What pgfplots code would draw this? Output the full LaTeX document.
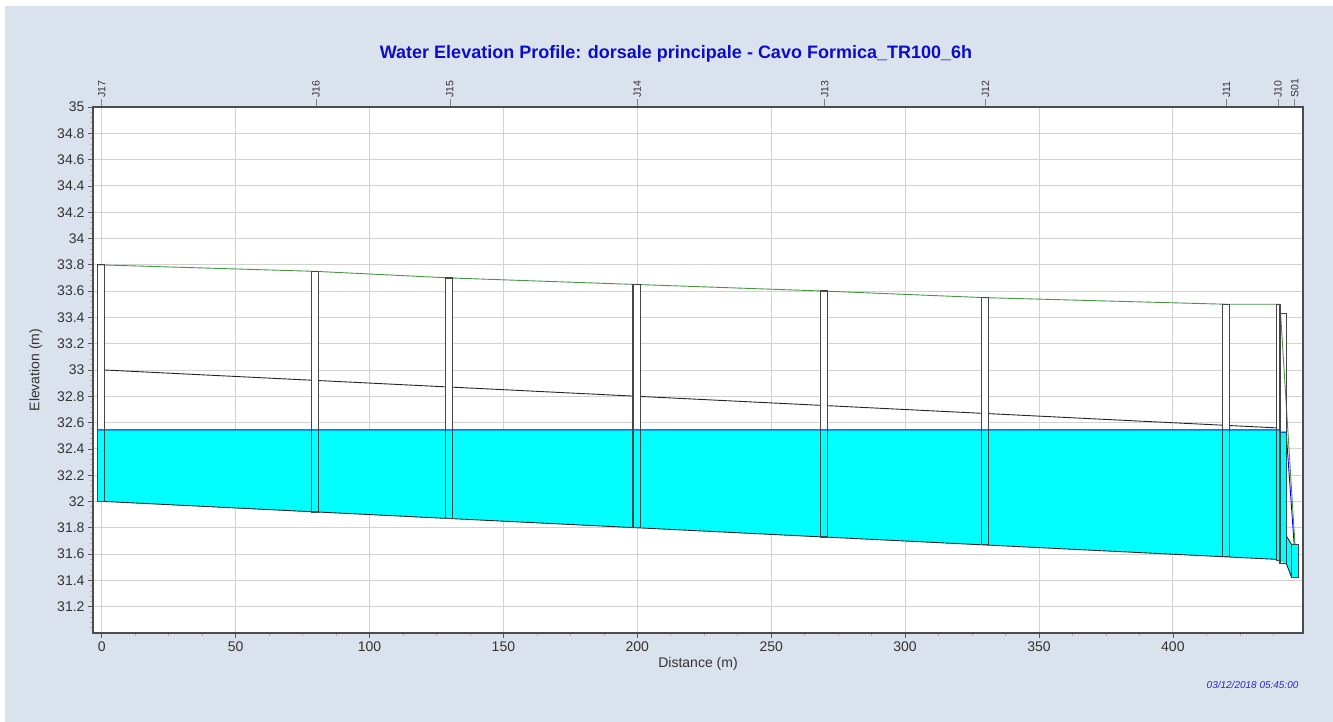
\documentclass[border=0pt]{standalone}
\usepackage{fontspec}
\setmainfont{Liberation Sans}
\usepackage{pgfplots}
\pgfplotsset{compat=1.18}
\definecolor{bg}{RGB}{218,227,237}
\definecolor{titleblue}{RGB}{12,12,205}
\definecolor{stampblue}{RGB}{40,40,200}
\definecolor{cyanw}{RGB}{0,255,255}
\definecolor{gridc}{RGB}{210,210,210}
\definecolor{groundg}{RGB}{70,150,70}
\definecolor{mhc}{RGB}{70,70,70}
\definecolor{labc}{RGB}{50,50,50}
\newcommand{\mhwhite}[4]{\addplot[draw=none, fill=white, forget plot] coordinates {(#1,#3) (#2,#3) (#2,#4) (#1,#4)} -- cycle;}
\newcommand{\mhline}[4]{\addplot[draw=mhc, line width=1.2pt, forget plot] coordinates {(#1,#3) (#2,#3) (#2,#4) (#1,#4)} -- cycle;}
\begin{document}
\begin{tikzpicture}
\fill[white] (0pt,0pt) rectangle (1333pt,722pt);
\fill[bg] (5pt,0pt) rectangle (1333pt,716pt);
\begin{axis}[
  at={(93pt,89pt)}, anchor=south west, scale only axis,
  width=1210pt, height=526pt,
  xmin=-3.25, xmax=448.6, ymin=31, ymax=35,
  axis background/.style={fill=white},
  xtick={0,50,100,150,200,250,300,350,400},
  ytick={31.2,31.4,31.6,31.8,32,32.2,32.4,32.6,32.8,33,33.2,33.4,33.6,33.8,34,34.2,34.4,34.6,34.8,35},
  minor xtick={0,12.5,...,437.5},
  minor ytick={31.04,31.08,...,34.97},
  xtick pos=left, ytick pos=left,
  tick align=outside,
  major tick length=5pt, minor tick length=3pt,
  tick style={gray!70!black, line width=0.6pt},
  minor tick style={gray!60, line width=0.6pt},
  grid=major,
  major grid style={gridc, line width=0.9pt},
  axis line style={gray!60!black, line width=1.2pt},
  /pgf/number format/assume math mode=true,
  ticklabel style={font=\fontsize{14}{16}\selectfont, text=labc},
  xlabel={Distance (m)}, ylabel={Elevation (m)},
  label style={font=\fontsize{14}{16}\selectfont, text=labc},
  xlabel style={yshift=1pt},
  ylabel style={yshift=8pt},
]
% water (cyan) region
\addplot[draw=none, fill=cyanw, forget plot] coordinates {
 (-1.6,32.00) (1.1,32.00) (78.4,31.92) (81.1,31.92) (128.4,31.87) (131.1,31.87)
 (198.4,31.80) (201.1,31.80) (268.4,31.73) (271.1,31.73) (328.4,31.67) (331.1,31.67)
 (418.4,31.58) (421.1,31.58) (438.7,31.56) (438.7,31.55) (442.3,31.53) (444.4,31.42)
 (446.8,31.42) (446.8,31.67) (444.4,31.67) (442.3,31.74) (442.3,32.527) (440.0,32.527)
 (440.0,32.545) (-1.6,32.545)} -- cycle;
% crown of pipe
\addplot[draw=black!85, line width=0.9pt, forget plot] coordinates {(1.1,33.00) (438.7,32.56)};
% manholes, white above water
\mhwhite{-1.6}{1.1}{32.552}{33.80}
\mhwhite{78.4}{81.1}{32.552}{33.75}
\mhwhite{128.4}{131.1}{32.552}{33.70}
\mhwhite{198.4}{201.1}{32.552}{33.65}
\mhwhite{268.4}{271.1}{32.552}{33.60}
\mhwhite{328.4}{331.1}{32.552}{33.55}
\mhwhite{418.4}{421.1}{32.552}{33.50}
\mhwhite{438.7}{440.0}{32.552}{33.50}
\mhwhite{440.0}{442.3}{32.535}{33.43}
% water surface
\addplot[draw=blue, line width=0.9pt, forget plot] coordinates {(-1.6,32.545) (440.0,32.545) (440.0,32.527) (442.3,32.527) (445.3,31.67)};
% invert of pipe
\addplot[draw=black!85, line width=0.9pt, forget plot] coordinates {(1.1,32.00) (438.7,31.56)};
\addplot[draw=black!85, line width=0.9pt, forget plot] coordinates {(442.3,31.53) (444.4,31.42)};
\addplot[draw=black!85, line width=0.9pt, forget plot] coordinates {(442.3,31.74) (444.4,31.67)};
% ground
\addplot[draw=groundg, line width=0.9pt, forget plot] coordinates {(-1.6,33.80) (80,33.75) (130,33.70) (200,33.65) (270,33.60) (330,33.55) (420,33.50) (440,33.50) (445.6,31.67)};
% manhole outlines
\mhline{-1.6}{1.1}{32.00}{33.80}
\mhline{78.4}{81.1}{31.92}{33.75}
\mhline{128.4}{131.1}{31.87}{33.70}
\mhline{198.4}{201.1}{31.80}{33.65}
\mhline{268.4}{271.1}{31.73}{33.60}
\mhline{328.4}{331.1}{31.67}{33.55}
\mhline{418.4}{421.1}{31.58}{33.50}
\mhline{438.7}{440.0}{31.55}{33.50}
\mhline{440.0}{442.3}{31.53}{33.43}
\mhline{444.4}{446.8}{31.42}{31.67}
\end{axis}
\begin{axis}[
  at={(93pt,89pt)}, anchor=south west, scale only axis,
  width=1210pt, height=526pt,
  xmin=-3.25, xmax=448.6, ymin=31, ymax=35,
  axis x line*=top, axis y line=none,
  xtick={0,80,130,200,270,330,420,439.3,445.5},
  xticklabels={J17,J16,J15,J14,J13,J12,J11,J10,S01},
  tick align=outside, major tick length=8pt,
  tick style={gray, line width=0.6pt},
  axis line style={gray!60!black, line width=1.2pt},
  xticklabel shift=0pt,
  xticklabel style={rotate=90, anchor=west, font=\fontsize{10.5}{12}\selectfont, text=labc, inner sep=1pt},
]
\addplot[draw=none] coordinates {(0,31)};
\end{axis}
\node[font=\bfseries\fontsize{18}{21}\selectfont, text=titleblue] at (676pt,668pt) {Water Elevation Profile: dorsale principale - Cavo Formica\_TR100\_6h};
\node[font=\itshape\fontsize{10}{12}\selectfont, text=stampblue, anchor=east] at (1302pt,37pt) {03/12/2018 05:45:00};
\pgfresetboundingbox
\path[use as bounding box] (0pt,0pt) rectangle (1333pt,722pt);
\end{tikzpicture}
\end{document}
